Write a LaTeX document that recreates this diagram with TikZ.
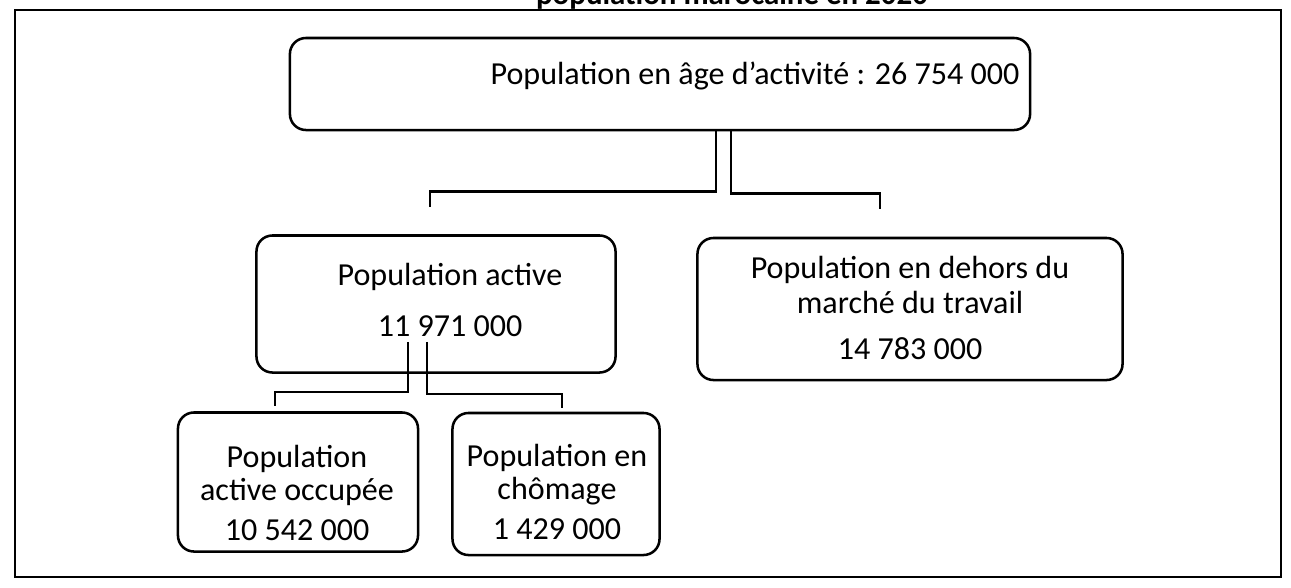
\documentclass[tikz,border=0pt]{standalone}
\usepackage{fontspec}
\setmainfont{Carlito}
\usepackage{tikz}
\usetikzlibrary{positioning,calc}
\tikzset{
    x=0.025cm, y=-0.025cm,
    txt/.style = {font=\fontsize{22.8pt}{24.8pt}\selectfont, align=center, inner sep=0pt},
    petit/.style = {font=\fontsize{22.8pt}{23.4pt}\selectfont},
    boite/.style = {draw, rounded corners=0.4cm, line width=1.8pt},
    lien/.style = {line width=1.8pt},
    cadre/.style = {line width=2pt}
}
\begin{document}
\begin{tikzpicture}
        \useasboundingbox (0,0) rectangle (1291,587);
        \begin{scope}
          \clip (0,0) rectangle (1291,587);
          \node[txt, font=\bfseries\fontsize{22pt}{24pt}\selectfont, anchor=base] (titre) at (732,4) {population marocaine en 2020};
        \end{scope}
        \draw[cadre, fill=white] (15,10) rectangle (1281,577);

        \node[boite, minimum width=18.5cm, minimum height=2.3cm] (a) at (660,84) {};
        \node[txt] (at) at (755,76) {Population en âge d'activité : 26 754 000};

        \node[boite, minimum width=8.975cm, minimum height=3.425cm] (b) at (436,304) {};
        \node[txt] (bt) at (450,300) {Population active\\[12pt]11 971 000};

        \node[boite, minimum width=10.625cm, minimum height=3.55cm] (c) at (910,309) {};
        \node[txt] (ct) at (910,308) {Population en dehors du\\marché du travail\\[8pt]14 783 000};

        \node[boite, minimum width=6cm, minimum height=3.475cm] (d) at (298,482) {};
        \node[txt, petit] (dt) at (297,493) {Population\\active occupée\\[5pt]10 542 000};

        \node[boite, minimum width=5.175cm, minimum height=3.55cm] (e) at (556,484) {};
        \node[txt, petit] (et) at (557,492) {Population en\\chômage\\[5pt]1 429 000};

        \draw[lien, shorten >=0.675cm] ([xshift=1.4cm]a.south) -- ++(0,60) -| ([xshift=-0.15cm]b.north);
        \draw[lien, shorten >=0.7cm] ([xshift=1.775cm]a.south) -- ++(0,62) -| ([xshift=-0.75cm]c.north);

        \draw[lien, shorten >=0.125cm] ([xshift=-0.7cm,yshift=0.8cm]b.south) -- ++(0,50) -| ([xshift=-0.575cm]d.north);
        \draw[lien, shorten >=0.1cm] ([xshift=-0.225cm,yshift=0.8cm]b.south) -- ++(0,52) -| ([xshift=0.15cm]e.north);
\end{tikzpicture}
\end{document}
